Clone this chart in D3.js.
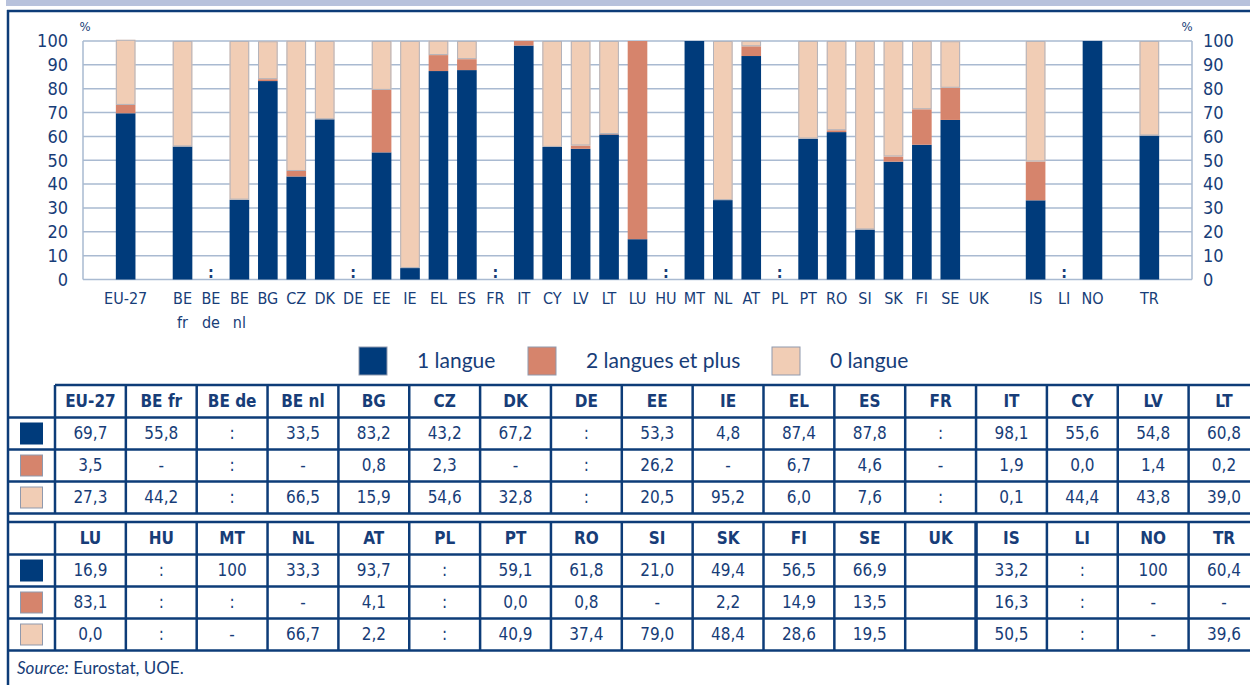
<!DOCTYPE html>
<html>
<head>
<meta charset="utf-8">
<script src="https://cdn.jsdelivr.net/npm/d3@7"></script>
<style>
body { margin: 0; background: #fff; }
svg { display: block; }
.cond { font-family: "Liberation Sans Narrow", "DejaVu Sans Condensed", "Arial Narrow", sans-serif; }
.plain { font-family: Lato, "Open Sans", sans-serif; }
</style>
</head>
<body>
<svg id="chart" width="1250" height="685"></svg>
<script>
// countries, in chart / table order
const countries = ["EU-27", "BE fr", "BE de", "BE nl", "BG", "CZ", "DK", "DE", "EE", "IE", "EL", "ES", "FR",
    "IT", "CY", "LV", "LT", "LU", "HU", "MT", "NL", "AT", "PL", "PT", "RO", "SI", "SK", "FI", "SE", "UK",
    "IS", "LI", "NO", "TR"];
// x slots of the chart (with the empty gaps)
const chartSlots = ["EU-27", "gap1", "BE fr", "BE de", "BE nl", "BG", "CZ", "DK", "DE", "EE", "IE", "EL", "ES", "FR",
    "IT", "CY", "LV", "LT", "LU", "HU", "MT", "NL", "AT", "PL", "PT", "RO", "SI", "SK", "FI", "SE", "UK",
    "gap2", "IS", "LI", "NO", "gap3", "TR"];

// values as printed in the table (":" = not available, "-" = nil)
const oneLang = ["69,7", "55,8", ":", "33,5", "83,2", "43,2", "67,2", ":", "53,3", "4,8", "87,4", "87,8", ":",
    "98,1", "55,6", "54,8", "60,8", "16,9", ":", "100", "33,3", "93,7", ":", "59,1", "61,8", "21,0", "49,4",
    "56,5", "66,9", "", "33,2", ":", "100", "60,4"];
const twoLang = ["3,5", "-", ":", "-", "0,8", "2,3", "-", ":", "26,2", "-", "6,7", "4,6", "-",
    "1,9", "0,0", "1,4", "0,2", "83,1", ":", ":", "-", "4,1", ":", "0,0", "0,8", "-", "2,2",
    "14,9", "13,5", "", "16,3", ":", "-", "-"];
const zeroLang = ["27,3", "44,2", ":", "66,5", "15,9", "54,6", "32,8", ":", "20,5", "95,2", "6,0", "7,6", ":",
    "0,1", "44,4", "43,8", "39,0", "0,0", ":", "-", "66,7", "2,2", ":", "40,9", "37,4", "79,0", "48,4",
    "28,6", "19,5", "", "50,5", ":", "-", "39,6"];

const seriesNames = ["1 langue", "2 langues et plus", "0 langue"];
const seriesColors = ["#003b7b", "#d6846c", "#f1cdb5"];
const yTicks = [0, 10, 20, 30, 40, 50, 60, 70, 80, 90, 100];

const ink = "#173d78", lineCol = "#0d3c78", gridCol = "#a9bad1";

function num(s) {
    if (s === ":" || s === "-" || s === "") return 0;
    return +s.replace(",", ".");
}

const rows = countries.map(function (c, i) {
    return { name: c, v: [num(oneLang[i]), num(twoLang[i]), num(zeroLang[i])], missing: oneLang[i] === ":" };
});

const svg = d3.select("#chart");

// top band + frame
svg.append("rect").attr("x", 6).attr("y", 0).attr("width", 1244).attr("height", 6).attr("fill", "#b8c2dc");
svg.append("line").attr("x1", 7).attr("x2", 1250).attr("y1", 11).attr("y2", 11)
    .attr("stroke", lineCol).attr("stroke-width", 2.5);
svg.append("line").attr("x1", 8).attr("x2", 8).attr("y1", 10).attr("y2", 685)
    .attr("stroke", lineCol).attr("stroke-width", 2.5);

// scales
const plot = { left: 83, right: 1192, top: 41, bottom: 279.5 };
const x = d3.scaleBand().domain(chartSlots).range([plot.left, plot.right])
    .paddingInner(0.31).paddingOuter(1.155);
const y = d3.scaleLinear().domain([0, 100]).range([plot.bottom, plot.top]);

// grid
svg.append("g").selectAll("line").data(yTicks).join("line")
    .attr("x1", plot.left).attr("x2", plot.right)
    .attr("y1", d => y(d)).attr("y2", d => y(d))
    .attr("stroke", gridCol).attr("stroke-width", 1.5);
svg.append("g").selectAll("line").data([plot.left, plot.right]).join("line")
    .attr("x1", d => d).attr("x2", d => d).attr("y1", plot.top).attr("y2", plot.bottom)
    .attr("stroke", gridCol).attr("stroke-width", 1.5);

// bars
const stack = d3.stack().keys([0, 1, 2]).value((d, k) => d.v[k]);
const series = stack(rows);
svg.append("g").selectAll("g").data(series).join("g")
    .attr("fill", (d, i) => seriesColors[i])
    .selectAll("rect").data(d => d.filter(p => p[1] > p[0])).join("rect")
    .attr("x", d => x(d.data.name))
    .attr("width", x.bandwidth())
    .attr("y", d => y(d[1]))
    .attr("height", d => y(d[0]) - y(d[1]));
// thin outline on the "0 langue" parts
svg.append("g").selectAll("rect").data(series[2].filter(p => p[1] > p[0])).join("rect")
    .attr("x", d => x(d.data.name) + 0.5)
    .attr("width", x.bandwidth() - 1)
    .attr("y", d => y(d[1]) + 0.5)
    .attr("height", d => y(d[0]) - y(d[1]) - 1)
    .attr("fill", "none").attr("stroke", "#b3b3bb").attr("stroke-width", 1);

// ":" markers for missing data
svg.append("g").selectAll("text").data(rows.filter(r => r.missing)).join("text")
    .attr("class", "cond")
    .attr("x", d => x(d.name) + x.bandwidth() / 2)
    .attr("y", 272).attr("dy", "0.35em")
    .attr("text-anchor", "middle").attr("font-weight", "bold").attr("font-size", 16)
    .attr("fill", ink).text(":");

// y axes (left and right)
const yAxisL = svg.append("g").attr("class", "cond")
    .attr("transform", "translate(" + 70 + ",0)")
    .call(d3.axisLeft(y).tickValues(yTicks).tickSize(0).tickPadding(2));
const yAxisR = svg.append("g").attr("class", "cond")
    .attr("transform", "translate(" + 1201 + ",0)")
    .call(d3.axisRight(y).tickValues(yTicks).tickSize(0).tickPadding(2));
[yAxisL, yAxisR].forEach(function (g) {
    g.select(".domain").remove();
    g.selectAll("text").attr("font-size", 18).attr("fill", ink)
        .attr("font-family", null);
});
svg.append("text").attr("class", "cond").attr("x", 85).attr("y", 26).attr("dy", "0.35em")
    .attr("text-anchor", "middle").attr("font-size", 13).attr("fill", ink).text("%");
svg.append("text").attr("class", "cond").attr("x", 1187).attr("y", 26).attr("dy", "0.35em")
    .attr("text-anchor", "middle").attr("font-size", 13).attr("fill", ink).text("%");

// x axis labels
const xAxis = svg.append("g").attr("class", "cond")
    .attr("transform", "translate(0," + 290 + ")")
    .call(d3.axisBottom(x).tickValues(countries).tickSize(0).tickPadding(0).tickFormat(""));
xAxis.select(".domain").remove();
xAxis.selectAll(".tick").append("text")
    .attr("fill", ink).attr("font-size", 16).attr("text-anchor", "middle")
    .selectAll("tspan").data(d => d.startsWith("BE ") ? d.split(" ") : [d]).join("tspan")
    .attr("x", 0).attr("y", (d, i) => 8 + i * 24).attr("dy", "0.35em").text(d => d);

// legend
const legendX = [359, 528, 772];
const legend = svg.append("g").selectAll("g").data(seriesNames).join("g")
    .attr("transform", (d, i) => "translate(" + legendX[i] + ",347)");
legend.append("rect").attr("width", 28).attr("height", 28)
    .attr("fill", (d, i) => seriesColors[i]).attr("stroke", "#8f99ad").attr("stroke-width", 1);
legend.append("text").attr("class", "plain").attr("x", 58).attr("y", 14).attr("dy", "0.35em")
    .attr("font-size", 21).attr("fill", ink).text(d => d);

// tables
const colX = d3.scaleBand().domain(d3.range(17)).range([55, 55 + 17 * 70.85]);
const valueCols = [oneLang, twoLang, zeroLang];

function drawTable(top, start, fullTop) {
    const g = svg.append("g");
    const rowTops = [top, top + 32.5, top + 64.5, top + 96.5, top + 128.5];
    const idx = d3.range(start, start + 17);
    // horizontal lines
    g.selectAll("line.h").data(rowTops).join("line").attr("class", "h")
        .attr("x1", (d, i) => (i === 0 && !fullTop) ? 55 : 7).attr("x2", 1260)
        .attr("y1", d => d).attr("y2", d => d)
        .attr("stroke", lineCol).attr("stroke-width", 2.5);
    // vertical lines
    g.selectAll("line.v").data(d3.range(18)).join("line").attr("class", "v")
        .attr("x1", d => colX(0) + d * colX.step()).attr("x2", d => colX(0) + d * colX.step())
        .attr("y1", top).attr("y2", rowTops[4])
        .attr("stroke", lineCol)
        .attr("stroke-width", d => (countries[start + d - 1] === "UK") ? 3.5 : 2.5);
    // header
    g.selectAll("text.hd").data(idx).join("text").attr("class", "hd cond")
        .attr("x", (d, i) => colX(i) + colX.bandwidth() / 2)
        .attr("y", (rowTops[0] + rowTops[1]) / 2).attr("dy", "0.35em")
        .attr("text-anchor", "middle").attr("font-weight", "bold").attr("font-size", 17)
        .attr("fill", ink).text(d => countries[d]);
    // swatches and values
    valueCols.forEach(function (vals, r) {
        const cy = (rowTops[r + 1] + rowTops[r + 2]) / 2;
        g.append("rect").attr("x", 20.5).attr("y", cy - 10.5).attr("width", 22).attr("height", 21)
            .attr("fill", seriesColors[r]).attr("stroke", r === 0 ? seriesColors[0] : "#8f99ad")
            .attr("stroke-width", 1);
        g.selectAll("text.r" + r).data(idx).join("text").attr("class", "r" + r + " cond")
            .attr("x", (d, i) => colX(i) + colX.bandwidth() / 2)
            .attr("y", cy).attr("dy", "0.35em")
            .attr("text-anchor", "middle").attr("font-size", 17)
            .attr("fill", ink).text(d => vals[d]);
    });
}
drawTable(385, 0, false);
drawTable(522, 17, true);

// source
const src = svg.append("text").attr("class", "plain").attr("x", 17).attr("y", 668).attr("dy", "0.35em")
    .attr("font-size", 17).attr("fill", ink);
src.append("tspan").attr("font-style", "italic").text("Source:");
src.append("tspan").text(" Eurostat, UOE.");
</script>
</body>
</html>
